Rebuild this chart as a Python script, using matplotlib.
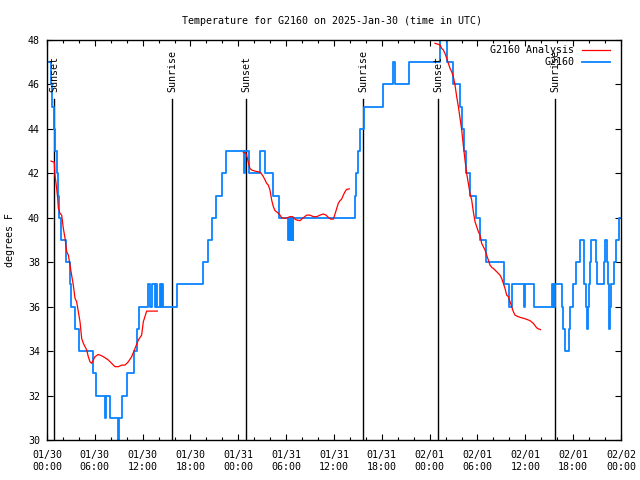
import pandas as pd
import matplotlib
matplotlib.use("Agg")
import matplotlib.pyplot as plt
import matplotlib.dates as mdates

plt.rcParams['font.family'] = ['DejaVu Sans Mono']
plt.rcParams['font.size'] = 7.2

start = pd.Timestamp("2025-01-30 00:00")

# G2160 observations: hours after start, degrees F (step changes)
blue_h = [0.15, 0.5, 0.65, 0.9, 1.05, 1.2, 1.35, 1.5, 1.75, 2.35, 2.85, 3.0, 3.5, 4.05,
          5.8, 6.1, 7.28, 7.44, 7.95, 8.86, 9.03, 9.45, 9.99, 10.95, 11.25, 11.6,
          12.7, 12.9, 13.15, 13.5, 13.65, 13.8, 14.15, 14.3, 14.4, 14.6, 16.3,
          19.55, 20.15, 20.7, 21.2, 21.9, 22.45, 24.72, 24.85, 25.35, 26.75, 27.3,
          28.4, 29.1, 30.25, 30.35, 30.45, 30.55, 30.6, 30.65, 30.7, 30.75, 30.8, 30.9,
          38.6, 38.8, 39.0, 39.3, 39.75, 42.1, 43.4, 43.7, 45.4, 49.3, 50.2, 50.95,
          51.75, 52.05, 52.25, 52.55, 53.1, 53.85, 54.35, 55.1, 57.3, 58.0, 58.35,
          59.8, 59.95, 61.05, 63.3, 63.45, 63.55, 63.65, 63.75, 64.6, 64.75, 65.0,
          65.45, 65.55, 66.0, 66.35, 66.8, 67.3, 67.42, 67.55, 67.68, 67.85, 67.95,
          68.08, 68.2, 68.85, 69.0, 69.85, 69.98, 70.3, 70.38, 70.45, 70.5, 70.65,
          70.8, 71.1, 71.35, 71.7, 72.0]
blue_v = [47, 46, 45, 44, 43, 42, 41, 40, 39, 38, 37, 36, 35, 34,
          33, 32, 31, 32, 31, 30, 31, 32, 33, 34, 35, 36,
          37, 36, 37, 36, 37, 36, 37, 36, 37, 36, 37,
          38, 39, 40, 41, 42, 43, 42, 43, 42, 43, 42,
          41, 40, 39, 40, 39, 40, 39, 40, 39, 40, 39, 40,
          41, 42, 43, 44, 45, 46, 47, 46, 47, 48, 47, 46,
          45, 44, 43, 42, 41, 40, 39, 38, 37, 36, 37,
          36, 37, 36, 37, 36, 37, 36, 37, 36, 35, 34,
          35, 36, 37, 38, 39, 38, 37, 36, 35, 36, 37,
          38, 39, 38, 37, 38, 39, 38, 37, 36, 35, 36,
          37, 38, 39, 40, 40]

# G2160 Analysis, three runs
red1_h = [0.5, 0.92, 1.0, 1.21, 1.34, 1.42, 1.63, 1.84, 2.05, 2.26, 2.47, 2.68, 2.88,
          3.09, 3.30, 3.51, 3.72, 3.93, 4.14, 4.35, 4.56, 4.77, 4.98, 5.18, 5.39,
          5.60, 5.81, 6.02, 6.44, 6.86, 7.28, 7.69, 8.11, 8.53, 8.95, 9.37, 9.78,
          10.20, 10.62, 11.04, 11.46, 11.87, 12.08, 12.5, 13.84]
red1_v = [42.55, 42.5, 41.92, 41.33, 40.88, 40.45, 40.2, 40.12, 39.52, 39.08, 38.47,
          38.32, 37.87, 37.42, 36.97, 36.38, 36.22, 35.77, 35.32, 34.57, 34.35, 34.2,
          34.05, 33.75, 33.52, 33.45, 33.6, 33.75, 33.85, 33.79, 33.7, 33.6, 33.45,
          33.3, 33.3, 33.37, 33.37, 33.52, 33.75, 34.12, 34.5, 34.72, 35.32, 35.8, 35.8]

red2_h = [24.63, 24.96, 25.13, 25.34, 25.46, 25.67, 26.09, 26.51, 26.80, 27.14, 27.35,
          27.55, 27.76, 27.97, 28.18, 28.39, 28.60, 28.81, 29.02, 29.23, 29.44, 29.85,
          30.27, 30.48, 30.82, 31.11, 31.32, 31.74, 32.15, 32.57, 32.99, 33.41, 33.83,
          34.25, 34.66, 35.00, 35.29, 35.58, 35.92, 36.13, 36.34, 36.54, 36.75, 36.96,
          37.17, 37.38, 37.59, 37.92]
red2_v = [42.95, 42.9, 42.68, 42.37, 42.22, 42.15, 42.1, 42.07, 42.03, 41.85, 41.7,
          41.55, 41.47, 41.25, 40.8, 40.5, 40.32, 40.27, 40.2, 40.12, 40.0, 39.97,
          40.02, 40.05, 40.05, 39.94, 39.9, 39.87, 40.0, 40.12, 40.12, 40.05, 40.05,
          40.12, 40.17, 40.12, 40.02, 39.94, 39.94, 40.17, 40.42, 40.65, 40.77, 40.84,
          41.02, 41.17, 41.28, 41.3]

red3_h = [48.67, 49.30, 49.51, 49.72, 49.92, 50.13, 50.34, 50.55, 50.76, 50.97, 51.18,
          51.39, 51.60, 51.81, 52.02, 52.22, 52.43, 52.64, 52.85, 53.06, 53.27, 53.48,
          53.69, 53.90, 54.11, 54.32, 54.52, 54.73, 54.94, 55.15, 55.36, 55.57, 55.78,
          55.99, 56.41, 56.82, 57.03, 57.24, 57.45, 57.66, 57.87, 58.08, 58.29, 58.50,
          58.71, 58.91, 59.33, 59.75, 60.17, 60.59, 61.00, 61.42, 61.63, 61.9]
red3_v = [47.85, 47.78, 47.62, 47.55, 47.4, 47.18, 46.95, 46.73, 46.57, 46.35, 45.97,
          45.45, 45.0, 44.48, 43.95, 43.27, 42.6, 42.0, 41.55, 41.1, 40.8, 40.27,
          39.82, 39.6, 39.37, 39.22, 38.85, 38.7, 38.55, 38.32, 38.1, 37.87, 37.77,
          37.72, 37.57, 37.42, 37.27, 37.05, 36.82, 36.52, 36.45, 36.22, 36.0, 35.77,
          35.62, 35.58, 35.52, 35.48, 35.43, 35.37, 35.25, 35.05, 35.0, 34.97]

# sun events, hours after start
sun_h = [0.9, 15.72, 25.0, 39.68, 49.08, 63.76]
sun_lbl = ["Sunset", "Sunrise", "Sunset", "Sunrise", "Sunset", "Sunrise"]


def to_time(hours):
    return start + pd.to_timedelta(hours, unit="h")


fig = plt.figure(figsize=(6.4, 4.8), dpi=100)
ax = fig.add_axes([47 / 640, 40 / 480, 574 / 640, 400 / 480])

for h, lbl in zip(sun_h, sun_lbl):
    t = to_time(h)
    ax.axvline(t, ymin=0, ymax=0.8525, color="black", lw=1.0)
    ax.text(t, 45.68, lbl, rotation=90, ha="center", va="bottom")

ax.plot(to_time(blue_h), blue_v, drawstyle="steps-post", color="#0a84ff", lw=1.3)
for rh, rv in [(red1_h, red1_v), (red2_h, red2_v), (red3_h, red3_v)]:
    ax.plot(to_time(rh), rv, color="red", lw=0.9)

ax.set_xlim(start, to_time(72))
ax.set_ylim(30, 48)
ax.set_yticks(range(30, 49, 2))
ax.xaxis.set_major_locator(mdates.HourLocator(byhour=[0, 6, 12, 18]))
ax.xaxis.set_minor_locator(mdates.HourLocator(byhour=range(0, 24, 2)))
ax.xaxis.set_major_formatter(mdates.DateFormatter("%m/%d\n%H:%M"))
ax.tick_params(which="both", direction="in", top=True, right=True, width=0.8)
ax.tick_params(which="major", length=4.5, pad=5)
ax.tick_params(axis="x", which="major", pad=7)
ax.tick_params(which="minor", length=2.2)
for lab in ax.get_xticklabels():
    lab.set_linespacing(1.25)
for s in ax.spines.values():
    s.set_linewidth(1.0)

# legend, gnuplot style (text right-justified, sample after)
ax.text(0.9186, 0.975, "G2160 Analysis", ha="right", va="center", transform=ax.transAxes)
ax.plot([0.9315, 0.9808], [0.975, 0.975], color="red", lw=0.9, transform=ax.transAxes)
ax.text(0.9186, 0.944, "G2160", ha="right", va="center", transform=ax.transAxes)
ax.plot([0.9315, 0.9808], [0.944, 0.944], color="#0a84ff", lw=1.3, transform=ax.transAxes)

fig.text(332 / 640, 1 - 21 / 480, "Temperature for G2160 on 2025-Jan-30 (time in UTC)",
         ha="center", va="center")
fig.text(10 / 640, 0.5, "degrees F", rotation=90, ha="center", va="center")

fig.savefig("out.png", dpi=100)
